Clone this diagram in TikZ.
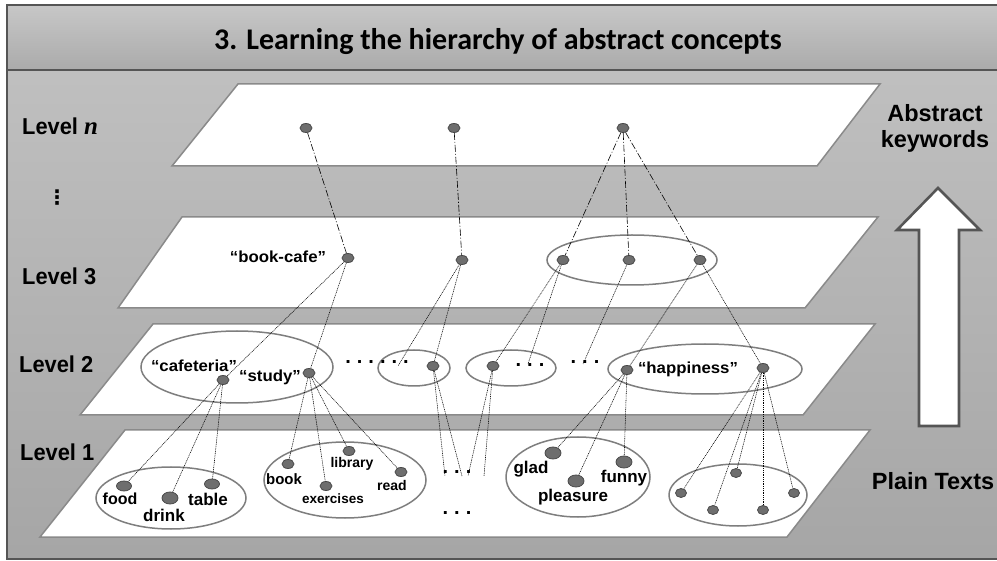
\documentclass[tikz,border=0pt]{standalone}
\usepackage{fontspec}
\setmainfont{Liberation Sans}
\newfontfamily\titlefont{Carlito}
\newfontfamily\condfont{Liberation Sans}[FakeStretch=0.95]
\newfontfamily\labelfont{Liberation Sans}[FakeStretch=1.05]
\newfontfamily\mathnfont{Liberation Serif}
\newfontfamily\symfont{DejaVu Sans}
\usetikzlibrary{shapes.geometric}

\definecolor{framegray}{HTML}{555555}
\definecolor{planeedge}{HTML}{8A8A8A}
\definecolor{ringgray}{HTML}{7E7E7E}
\definecolor{dotfill}{HTML}{6E6E6E}
\definecolor{dotedge}{HTML}{4A4A4A}

\newcommand\gapdot{\kern6pt.}
\newcommand\threedots{.\gapdot\gapdot}
\newcommand\sixdots{.\gapdot\gapdot\gapdot\gapdot\gapdot}

\tikzset{
  plane/.style={fill=white, draw=planeedge, line width=1.5pt, line join=miter},
  ring/.style={draw=ringgray, line width=1.5pt},
  kw/.style={ellipse, inner sep=0pt, fill=dotfill, draw=dotedge, line width=0.8pt,
    minimum width=12pt, minimum height=9pt},
  kwbig/.style={kw, minimum width=16pt, minimum height=12pt},
  kwmid/.style={kw, minimum width=15pt, minimum height=10pt},
  kwsmall/.style={kw, minimum width=11pt, minimum height=9pt},
  uplink/.style={line width=0.6pt, dash pattern=on 7pt off 2pt on 1pt off 2pt},
  downlink/.style={line width=0.55pt, dash pattern=on 1pt off 0.8pt},
  levellabel/.style={anchor=west, inner sep=0pt, font=\condfont\bfseries\fontsize{23}{25}\selectfont},
  sidelabel/.style={inner sep=0pt, align=center, font=\bfseries\fontsize{23.5}{26}\selectfont},
  concept/.style={inner sep=0pt, font=\labelfont\bfseries\fontsize{16}{18}\selectfont},
  word/.style={inner sep=0pt, font=\bfseries\fontsize{#1}{16}\selectfont},
  word/.default=14,
  gap/.style={inner sep=0pt, font=\bfseries\fontsize{20}{20}\selectfont},
}

\begin{document}
\begin{tikzpicture}[x=1pt, y=-1pt]
\useasboundingbox (0,0) rectangle (997,561);

% background and frame
\shade[top color=black!25, bottom color=black!35] (7,70) rectangle (999,559);
\shade[top color=black!22, bottom color=black!33] (7,5) rectangle (999,70);
\begin{scope}
  \clip (0,0) rectangle (997,561);
  \draw[framegray, line width=2.4pt] (7,5) rectangle (1001,559);
  \draw[framegray, line width=2.4pt] (7,70) -- (1001,70);
\end{scope}
\node[font=\titlefont\bfseries\fontsize{30}{34}\selectfont] (title) at (498,42)
  {3. Learning the hierarchy of abstract concepts};

% the four levels
\draw[plane] (238,84) -- (880,84) -- (817,166) -- (172,166) -- cycle;
\draw[plane] (182,217) -- (878,217) -- (805,308) -- (118,308) -- cycle;
\draw[plane] (153,324) -- (875,324) -- (803,415) -- (80,415) -- cycle;
\draw[plane] (125,430) -- (870,430) -- (787,537) -- (40,537) -- cycle;

% level captions
\node[levellabel] (lvn) at (22,126) {Level {\mathnfont\bfseries\itshape\fontsize{25}{25}\selectfont n}};
\node[inner sep=0pt, font=\symfont\bfseries\fontsize{20}{20}\selectfont] (vd) at (57,198) {⋮};
\node[levellabel] (lv3) at (22,276) {Level 3};
\node[levellabel] (lv2) at (19,364) {Level 2};
\node[levellabel] (lv1) at (20,452) {Level 1};

% upward arrow and side captions
\draw[fill=white, draw=framegray, line width=2.6pt, line join=miter]
  (938,188) -- (980,230) -- (959,230) -- (959,426) -- (919,426) -- (919,230) -- (897,230) -- cycle;
\node[sidelabel] (abs) at (935,128) {Abstract\\keywords};
\node[sidelabel] (plain) at (933,481) {Plain Texts};

% groups
\draw[ring] (632,260) ellipse [x radius=85, y radius=25];
\draw[ring] (237,367) ellipse [x radius=96, y radius=36];
\draw[ring] (414,368) ellipse [x radius=36, y radius=18];
\draw[ring] (511,368) ellipse [x radius=45, y radius=18];
\draw[ring] (705,369) ellipse [x radius=97, y radius=25];
\draw[ring] (171,498) ellipse [x radius=75, y radius=31];
\draw[ring] (345,480) ellipse [x radius=81, y radius=38];
\draw[ring] (578,477) ellipse [x radius=72, y radius=40];
\draw[ring] (738,495) ellipse [x radius=69, y radius=31];

% level n
\node[kw] (n1) at (306,128) {};
\node[kw] (n2) at (454,128) {};
\node[kw] (n3) at (623,128) {};
% level 3
\node[kw] (bc) at (348,258) {};
\node[kw] (m3) at (462,260) {};
\node[kw] (r3a) at (563,260) {};
\node[kw] (r3b) at (629,260) {};
\node[kw] (r3c) at (700,260) {};
% level 2
\node[kw] (caf) at (223,380) {};
\node[kw] (stu) at (309,373) {};
\node[kw] (g2) at (433,366) {};
\node[kw] (g3) at (493,366) {};
\node[kw] (hap) at (627,370) {};
\node[kw] (h2) at (763,368) {};
% level 1
\node[kwmid] (food) at (124,486) {};
\node[kwbig] (drink) at (170,498) {};
\node[kwmid] (table) at (212,484) {};
\node[kw] (book) at (288,464) {};
\node[kw] (lib) at (349,451) {};
\node[kw] (read) at (401,472) {};
\node[kw] (exer) at (326,486) {};
\node[kwbig] (glad) at (553,453) {};
\node[kwbig] (pleas) at (576,481) {};
\node[kwbig] (funny) at (624,462) {};
\node[kwsmall] (d1) at (681,493) {};
\node[kwsmall] (d2) at (713,510) {};
\node[kwsmall] (d3) at (736,473) {};
\node[kwsmall] (d4) at (763,510) {};
\node[kwsmall] (d5) at (794,493) {};

% elided entries
\node[gap] (el2a) at (377,362) {\sixdots};
\node[gap] (el2b) at (530,365) {\threedots};
\node[gap] (el2c) at (585,362) {\threedots};
\node[gap] (el1a) at (457,472) {\threedots};
\node[gap] (el1b) at (457,513) {\threedots};
\coordinate (x2a) at (398,366);
\coordinate (x2b) at (528,364);
\coordinate (x2c) at (583,364);
\coordinate (x1a) at (445,476);
\coordinate (x1b) at (462,476);
\coordinate (x1c) at (468,476);
\coordinate (x1d) at (484,476);

% links from level n down to level 3
\draw[uplink] (n1) -- (bc);
\draw[uplink] (n2) -- (m3);
\draw[uplink] (n3) -- (r3a);
\draw[uplink] (n3) -- (r3b);
\draw[uplink] (n3) -- (r3c);

% links from level 3 down to level 2
\draw[downlink] (bc) -- (caf);
\draw[downlink] (bc) -- (stu);
\draw[downlink] (m3) -- (x2a);
\draw[downlink] (m3) -- (g2);
\draw[downlink] (r3a) -- (g3);
\draw[downlink] (r3a) -- (x2b);
\draw[downlink] (r3b) -- (x2c);
\draw[downlink] (r3c) -- (hap);
\draw[downlink] (r3c) -- (h2);

% links from level 2 down to level 1
\draw[downlink] (caf) -- (food);
\draw[downlink] (caf) -- (drink);
\draw[downlink] (caf) -- (table);
\draw[downlink] (stu) -- (book);
\draw[downlink] (stu) -- (exer);
\draw[downlink] (stu) -- (lib);
\draw[downlink] (stu) -- (read);
\draw[downlink] (g2) -- (x1a);
\draw[downlink] (g2) -- (x1b);
\draw[downlink] (g3) -- (x1c);
\draw[downlink] (g3) -- (x1d);
\draw[downlink] (hap) -- (glad);
\draw[downlink] (hap) -- (pleas);
\draw[downlink] (hap) -- (funny);
\foreach \d in {d1,d2,d3,d4,d5} \draw[downlink] (h2) -- (\d);

% keyword labels
\node[concept] (tbc) at (278,257) {“book-cafe”};
\node[concept] (tcaf) at (194,366) {“cafeteria”};
\node[concept] (tstu) at (270,377) {“study”};
\node[concept] (thap) at (688,369) {“happiness”};
\node[word=16] (tfood) at (120,499) {food};
\node[word=17] (tdrink) at (164,515) {drink};
\node[word=17] (ttable) at (208,499) {table};
\node[word=15] (tbook) at (284,479) {book};
\node[word] (tlib) at (352,464) {library};
\node[word] (tread) at (392,485) {read};
\node[word=13.5] (texer) at (333,499) {exercises};
\node[word=17] (tglad) at (531,469) {glad};
\node[word=17] (tfunny) at (624,478) {funny};
\node[word=17] (tpleas) at (573,497) {pleasure};
\end{tikzpicture}
\end{document}
